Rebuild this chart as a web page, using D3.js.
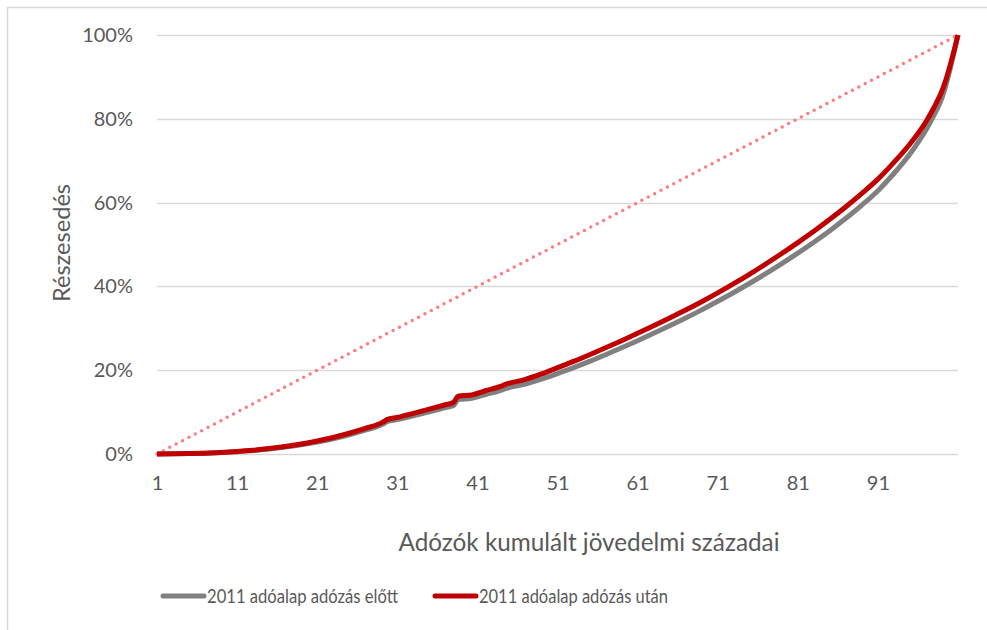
<!DOCTYPE html>
<html>
<head>
<meta charset="utf-8">
<script src="https://cdn.jsdelivr.net/npm/d3@7"></script>
<style>
  body { margin: 0; background: #fff; }
  svg { display: block; font-family: Lato, "Open Sans", sans-serif; }
</style>
</head>
<body>
<svg id="chart"></svg>
<script>
// income percentile positions (x, 1..101)
const percentiles = [1, 3, 5, 7, 9, 11, 13, 15, 17, 19, 21, 23, 25, 27, 29.2, 29.7, 31, 33, 35, 37, 38, 38.6, 40.3, 42, 44, 44.5, 47, 49, 51, 53, 55, 57, 59, 61, 63, 65, 67, 69, 71, 73, 75, 77, 79, 81, 83, 85, 87, 89, 91, 93, 95, 96, 97, 98, 99, 99.5, 100, 100.5, 101];
// cumulative share (%) before tax
const beforeTax = [0, 0.03, 0.1, 0.19, 0.35, 0.56, 0.84, 1.2, 1.65, 2.2, 2.85, 3.65, 4.6, 5.7, 7.15, 7.7, 8.2, 9.1, 10.05, 11.05, 11.55, 13.0, 13.3, 14.2, 15.25, 15.6, 16.7, 17.85, 19.2, 20.6, 22.1, 23.7, 25.35, 27.05, 28.8, 30.6, 32.45, 34.4, 36.45, 38.55, 40.75, 43.05, 45.45, 47.95, 50.55, 53.3, 56.25, 59.4, 62.85, 66.95, 71.6, 74.3, 77.3, 80.9, 85.0, 88.1, 91.8, 95.8, 100];
// cumulative share (%) after tax
const afterTax = [0, 0.03, 0.1, 0.2, 0.37, 0.6, 0.9, 1.3, 1.8, 2.4, 3.1, 3.95, 4.95, 6.1, 7.6, 8.2, 8.75, 9.7, 10.7, 11.75, 12.3, 13.8, 14.1, 15.1, 16.2, 16.6, 17.8, 19.1, 20.6, 22.1, 23.7, 25.35, 27.05, 28.8, 30.6, 32.45, 34.35, 36.35, 38.45, 40.65, 42.95, 45.35, 47.85, 50.45, 53.15, 56.0, 59.0, 62.2, 65.6, 69.6, 74.0, 76.5, 79.3, 82.7, 86.7, 89.4, 92.6, 96.2, 100];
// line of equality
const equality = [[1, 0], [101, 100]];

const xTicks = [1, 11, 21, 31, 41, 51, 61, 71, 81, 91];
const yTicks = [0, 20, 40, 60, 80, 100];

const seriesNames = ["2011 adóalap adózás előtt", "2011 adóalap adózás után"];
const colors = ["#808080", "#c00000"];

const width = 987;
const height = 630;
const margin = { top: 35, right: 29, bottom: 176, left: 157 };

const svg = d3.select("#chart").attr("width", width).attr("height", height);

// outer chart border
svg.append("rect")
  .attr("x", 7.5).attr("y", 7.5)
  .attr("width", width).attr("height", height)
  .attr("fill", "none").attr("stroke", "#d9d9d9").attr("stroke-width", 1.5);

const x = d3.scaleLinear().domain([1, 101]).range([margin.left, width - margin.right]);
const y = d3.scaleLinear().domain([0, 100]).range([height - margin.bottom, margin.top]);

// gridlines
svg.append("g")
  .selectAll("line")
  .data(yTicks)
  .join("line")
  .attr("x1", x(1)).attr("x2", x(101))
  .attr("y1", (d) => Math.round(y(d)) + 0.5).attr("y2", (d) => Math.round(y(d)) + 0.5)
  .attr("stroke", "#d9d9d9").attr("stroke-width", 1.3);

// y axis labels
const yAxis = d3.axisLeft(y).tickValues(yTicks).tickFormat((d) => d + "%").tickSize(0).tickPadding(24);
svg.append("g")
  .attr("transform", `translate(${margin.left},0)`)
  .call(yAxis)
  .call((g) => g.select(".domain").remove())
  .call((g) => g.selectAll("text").attr("font-size", 20).attr("fill", "#595959").attr("font-family", "Lato"));

// x axis labels
const xAxis = d3.axisBottom(x).tickValues(xTicks).tickFormat(d3.format("d")).tickSize(0).tickPadding(22);
svg.append("g")
  .attr("transform", `translate(0,${height - margin.bottom})`)
  .call(xAxis)
  .call((g) => g.select(".domain").remove())
  .call((g) => g.selectAll("text").attr("font-size", 20).attr("fill", "#595959").attr("font-family", "Lato"));

// axis titles
svg.append("text")
  .attr("x", 589).attr("y", 551)
  .attr("text-anchor", "middle")
  .attr("font-size", 24.3).attr("fill", "#595959")
  .text("Adózók kumulált jövedelmi századai");

svg.append("text")
  .attr("transform", "translate(70,243) rotate(-90)")
  .attr("text-anchor", "middle")
  .attr("font-size", 23.6).attr("fill", "#595959")
  .text("Részesedés");

// equality diagonal
svg.append("path")
  .datum(equality)
  .attr("d", d3.line().x((d) => x(d[0])).y((d) => y(d[1])))
  .attr("fill", "none")
  .attr("stroke", "#ff7c80")
  .attr("stroke-width", 3.5)
  .attr("stroke-linecap", "round")
  .attr("stroke-dasharray", "0 7.2");

// lorenz curves
const line = d3.line()
  .x((d) => x(d[0]))
  .y((d) => y(d[1]))
  .curve(d3.curveMonotoneX);

[beforeTax, afterTax].forEach((vals, i) => {
  svg.append("path")
    .datum(percentiles.map((p, j) => [p, vals[j]]))
    .attr("d", line)
    .attr("fill", "none")
    .attr("stroke", colors[i])
    .attr("stroke-width", 5)
    .attr("stroke-linejoin", "round");
});

// legend
const legendX = [163, 435];
const legendW = [191, 189];
const legend = svg.append("g");
seriesNames.forEach((name, i) => {
  legend.append("line")
    .attr("x1", legendX[i]).attr("x2", legendX[i] + 41)
    .attr("y1", 596).attr("y2", 596)
    .attr("stroke", colors[i]).attr("stroke-width", 5)
    .attr("stroke-linecap", "round");
  legend.append("text")
    .attr("x", legendX[i] + 44).attr("y", 603)
    .attr("font-size", 19.5).attr("fill", "#595959")
    .attr("textLength", legendW[i])
    .attr("lengthAdjust", "spacingAndGlyphs")
    .text(name);
});
</script>
</body>
</html>
